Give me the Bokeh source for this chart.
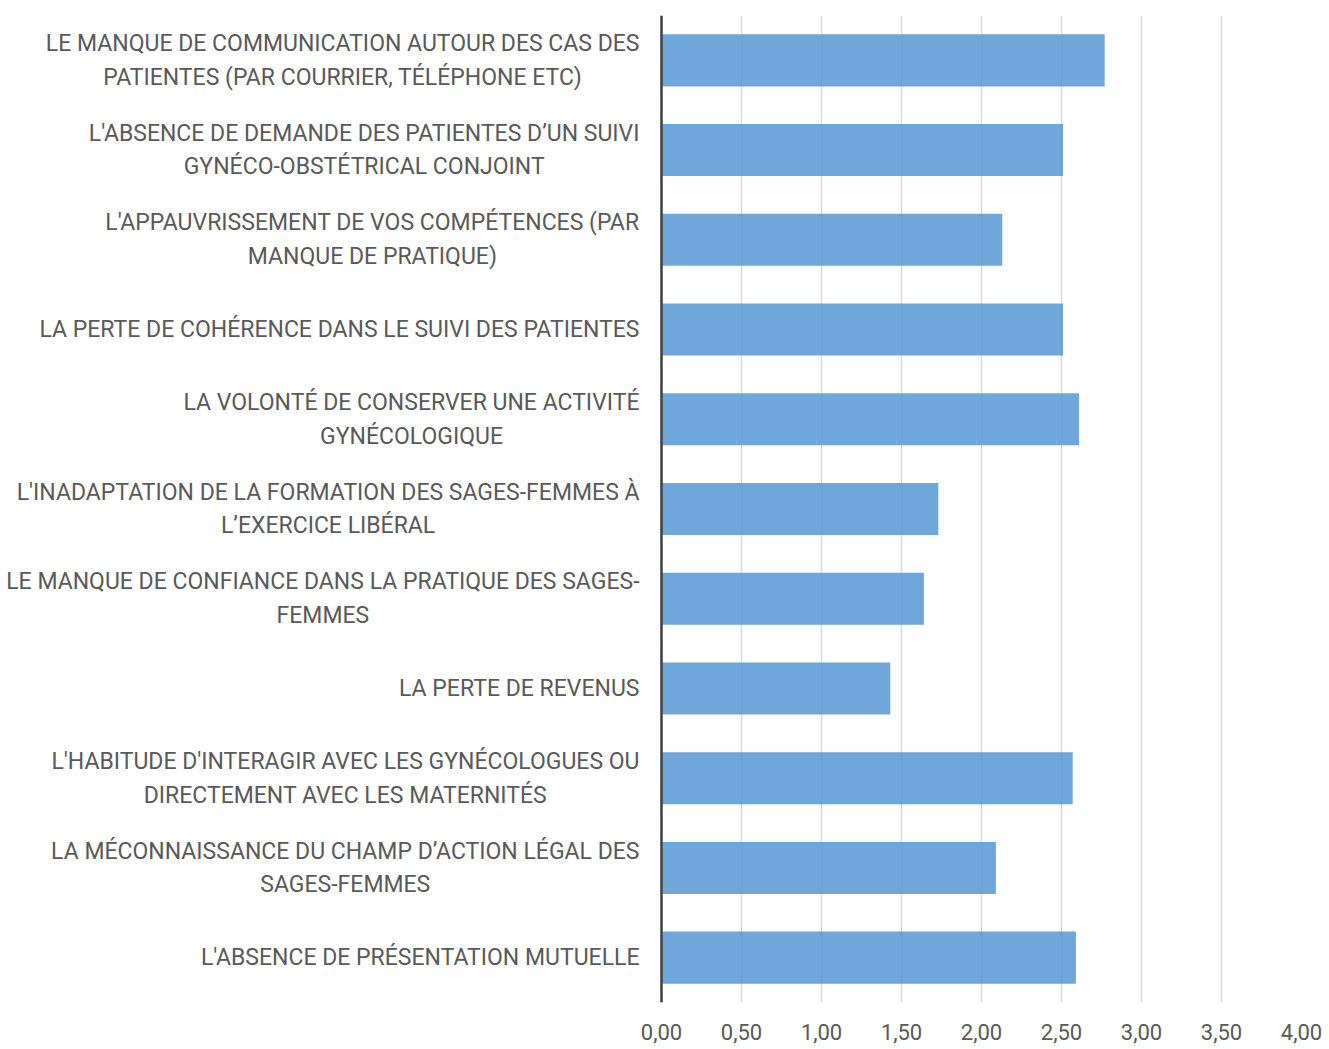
from bokeh.plotting import figure
from bokeh.models import FactorRange, FixedTicker, Range1d, Span
from bokeh.core.properties import value
from bokeh.embed import file_html
from bokeh.resources import INLINE

categories = [
    "LE MANQUE DE COMMUNICATION AUTOUR DES CAS DES\nPATIENTES (PAR COURRIER, TÉLÉPHONE ETC)",
    "L'ABSENCE DE DEMANDE DES PATIENTES D’UN SUIVI\nGYNÉCO-OBSTÉTRICAL CONJOINT",
    "L'APPAUVRISSEMENT DE VOS COMPÉTENCES (PAR\nMANQUE DE PRATIQUE)",
    "LA PERTE DE COHÉRENCE DANS LE SUIVI DES PATIENTES",
    "LA VOLONTÉ DE CONSERVER UNE ACTIVITÉ\nGYNÉCOLOGIQUE",
    "L'INADAPTATION DE LA FORMATION DES SAGES-FEMMES À\nL’EXERCICE LIBÉRAL",
    "LE MANQUE DE CONFIANCE DANS LA PRATIQUE DES SAGES-\nFEMMES",
    "LA PERTE DE REVENUS",
    "L'HABITUDE D'INTERAGIR AVEC LES GYNÉCOLOGUES OU\nDIRECTEMENT AVEC LES MATERNITÉS",
    "LA MÉCONNAISSANCE DU CHAMP D’ACTION LÉGAL DES\nSAGES-FEMMES",
    "L'ABSENCE DE PRÉSENTATION MUTUELLE",
]
values = [2.77, 2.51, 2.13, 2.51, 2.61, 1.73, 1.64, 1.43, 2.57, 2.09, 2.59]
x_ticks = [0, 0.5, 1, 1.5, 2, 2.5, 3, 3.5, 4]
x_tick_labels = ["0,00", "0,50", "1,00", "1,50", "2,00", "2,50", "3,00", "3,50", "4,00"]

FONT = "Roboto"
TEXT_COLOR = "#595959"

# layout: value axis spans 640 px for 0..4, category labels sit in the 661 px to its left
X_MAX = 4.0
PX_PER_UNIT = 640 / X_MAX
LABEL_AREA_PX = 661
x_start = -LABEL_AREA_PX / PX_PER_UNIT

factors = list(reversed(categories))  # first factor sits at the bottom
p = figure(
    width=1329, height=1049,
    x_range=Range1d(x_start, X_MAX),
    y_range=FactorRange(factors=factors, range_padding=0),
    output_backend="svg", toolbar_location=None,
    min_border_left=0, min_border_top=15, min_border_right=28, min_border_bottom=47,
)

p.hbar(y=categories, right=values, left=0, height=0.58,
       fill_color="#5B9BD5", fill_alpha=0.88, line_color=None)

p.outline_line_color = None
p.ygrid.grid_line_color = None
p.xgrid.grid_line_color = "#d9d9d9"
p.xgrid.grid_line_width = 1.5

p.xaxis.ticker = FixedTicker(ticks=x_ticks)
p.xaxis.major_label_overrides = dict(zip(x_ticks, x_tick_labels))
p.xaxis.axis_line_color = None
p.xaxis.major_tick_line_color = None
p.xaxis.minor_tick_line_color = None
p.xaxis.major_tick_out = 0
p.xaxis.major_label_standoff = 21
p.xaxis.major_label_text_font = FONT
p.xaxis.major_label_text_font_size = "22px"
p.xaxis.major_label_text_color = TEXT_COLOR

p.yaxis.visible = False
p.add_layout(Span(location=0, dimension="height", line_color="#404040", line_width=2.5))

p.text(x=[0] * len(categories), y=categories, text=categories,
       x_offset=-22, anchor=value("center_right"), text_align="center",
       text_baseline="middle",
       text_font=value(FONT), text_font_size="23px", text_color=TEXT_COLOR,
       text_line_height=1.25)

open("out.html", "w").write(file_html(p, INLINE))
